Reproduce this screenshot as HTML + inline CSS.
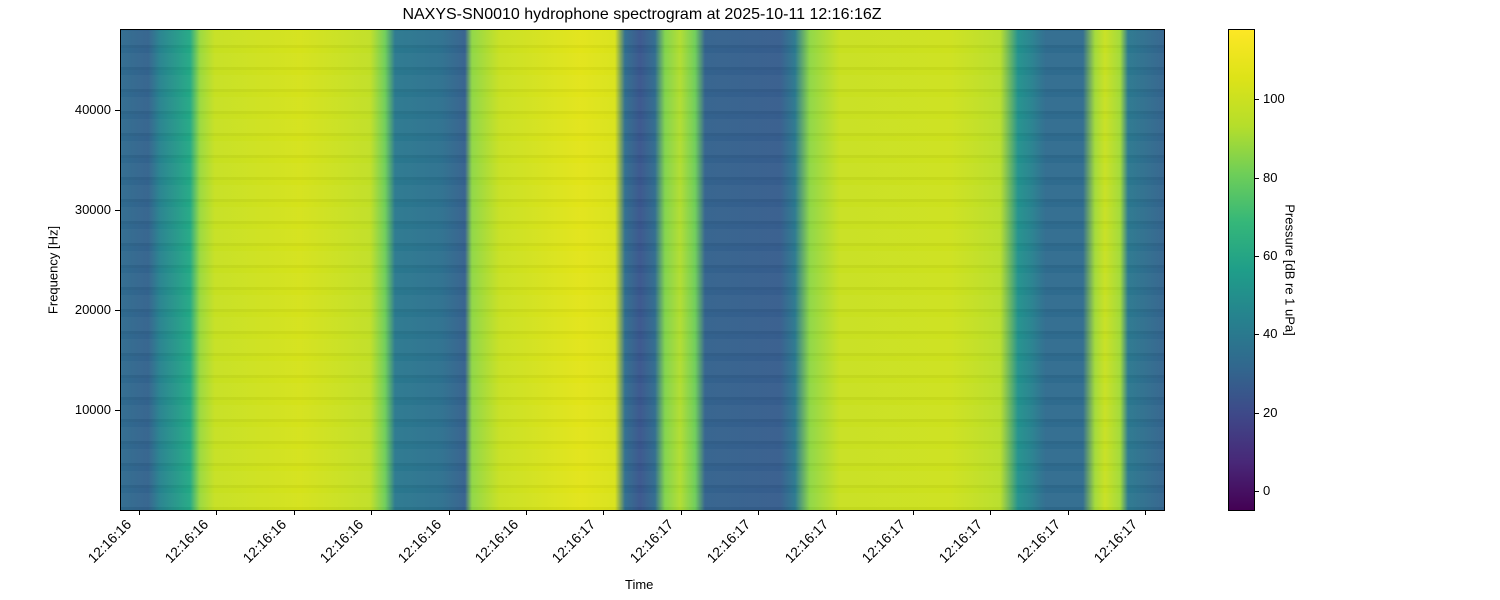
<!DOCTYPE html>
<html><head><meta charset="utf-8"><style>
body{margin:0;width:1500px;height:600px;background:#fff;font-family:"Liberation Sans","DejaVu Sans",sans-serif;position:relative;overflow:hidden}
.abs{position:absolute}
#plot{left:121px;top:30px;width:1043px;height:480px;
background:linear-gradient(90deg,#2f6b8e 0px,#33628d 27px,#26828e 39px,#22a884 69px,#9ad93d 79px,#c6e021 94px,#d5e21a 179px,#c0df25 249px,#6ece58 264px,#2a788e 274px,#2c718e 319px,#35608d 344px,#8fd744 351px,#c8e020 379px,#e2e418 459px,#d8e219 494px,#2e6d8e 504px,#39558c 519px,#2f6b8e 534px,#80d34b 544px,#b0dd2f 559px,#6ece58 574px,#33628d 584px,#365d8d 659px,#2a788e 674px,#8fd744 689px,#c8e020 719px,#cde11d 829px,#b8de29 879px,#21918c 897px,#26828e 910px,#2f6b8e 925px,#2f6b8e 962px,#a2da37 974px,#c8e020 984px,#a2da37 999px,#2a788e 1007px,#33638d 1043px);outline:1px solid #000;overflow:hidden}
#stripes{inset:0;background:repeating-linear-gradient(0deg,rgba(0,0,0,0.035) 0px,rgba(0,0,0,0.035) 3px,rgba(255,255,255,0.03) 3px,rgba(255,255,255,0.03) 17px,rgba(0,0,0,0) 17px,rgba(0,0,0,0) 22px)}
#cbar{left:1229px;top:30px;width:25px;height:480px;outline:1px solid #000;
background:linear-gradient(0deg,#440154 0%,#482878 10%,#3e4989 20%,#31688e 30%,#26828e 40%,#1f9e89 50%,#35b779 60%,#6ece58 70%,#b5de2b 80%,#dde318 90%,#fde725 100%)}
.t{font-size:13px;color:#000;white-space:nowrap}
.yt{width:6px;height:1px;background:#000}
.xt{width:1px;height:5px;background:#000}
.xl{transform-origin:right top;transform:rotate(-45deg);font-size:14px}
</style></head><body>
<div class="abs t" style="left:0;width:1284px;top:6px;text-align:center;font-size:16px">NAXYS-SN0010 hydrophone spectrogram at 2025-10-11 12:16:16Z</div>
<div id="plot" class="abs"><div id="stripes" class="abs"></div></div>
<div id="cbar" class="abs"></div>

<div class="abs yt" style="left:115px;top:110px"></div><div class="abs t" style="left:55px;top:102px;width:56px;text-align:right">40000</div>
<div class="abs yt" style="left:115px;top:210px"></div><div class="abs t" style="left:55px;top:202px;width:56px;text-align:right">30000</div>
<div class="abs yt" style="left:115px;top:310px"></div><div class="abs t" style="left:55px;top:302px;width:56px;text-align:right">20000</div>
<div class="abs yt" style="left:115px;top:410px"></div><div class="abs t" style="left:55px;top:402px;width:56px;text-align:right">10000</div>
<div class="abs t" style="left:53px;top:270px;transform:translate(-50%,-50%) rotate(-90deg);transform-origin:center">Frequency [Hz]</div>

<div id="xt"></div>
<script>
var xs=[139,216,294,371,449,526,603,681,758,836,913,990,1068,1145];
var h='';
xs.forEach(function(x,i){var l=i<6?'12:16:16':'12:16:17';
h+='<div class="abs xt" style="left:'+x+'px;top:510px"></div>';
h+='<div class="abs t xl" style="left:'+(x-86)+'px;top:516px;width:70px;text-align:right">'+l+'</div>';});
document.getElementById('xt').innerHTML=h;
var c='';[[0,491],[20,413],[40,334],[60,256],[80,178],[100,99]].forEach(function(p){
c+='<div class="abs" style="left:1254px;top:'+p[1]+'px;width:5px;height:1px;background:#000"></div>';
c+='<div class="abs t" style="left:1263px;top:'+(p[1]-8)+'px">'+p[0]+'</div>';});
document.body.insertAdjacentHTML('beforeend',c);
</script>
<div class="abs t" style="left:625px;top:577px">Time</div>
<div class="abs t" style="left:1290px;top:270px;transform:translate(-50%,-50%) rotate(90deg)">Pressure [dB re 1 uPa]</div>
</body></html>
